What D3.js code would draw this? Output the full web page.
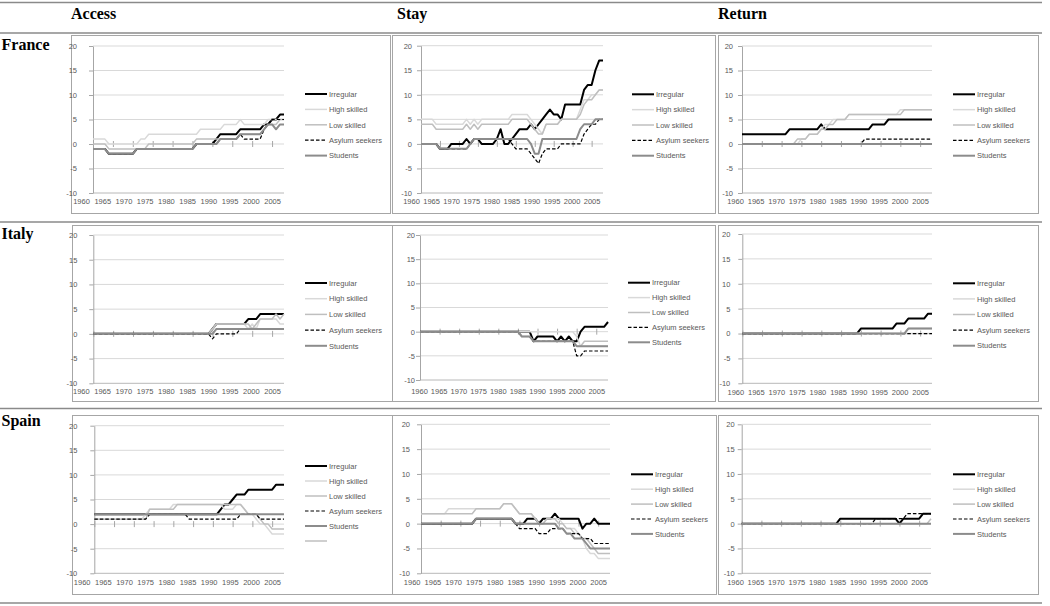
<!DOCTYPE html>
<html><head><meta charset="utf-8">
<script src="https://cdn.jsdelivr.net/npm/d3@7"></script>
<style>body{margin:0;background:#fff}svg{display:block}</style>
</head><body><svg id="c" width="1050" height="606"></svg>
<script>
const years = [1960,1961,1962,1963,1964,1965,1966,1967,1968,1969,1970,1971,1972,1973,1974,1975,1976,1977,1978,1979,1980,1981,1982,1983,1984,1985,1986,1987,1988,1989,1990,1991,1992,1993,1994,1995,1996,1997,1998,1999,2000,2001,2002,2003,2004,2005,2006,2007,2008];
const xTickYears = [1960,1965,1970,1975,1980,1985,1990,1995,2000,2005];
const xTickLabels = ["1960","1965","1970","1975","1980","1985","1990","1995","2000","2005"];
const yTicks = [-10,-5,0,5,10,15,20];
const yTickLabels = ["-10","-5","0","5","10","15","20"];
const columns = ["Access","Stay","Return"];
const countries = ["France","Italy","Spain"];
const seriesNames = ["Irregular","High skilled","Low skilled","Asylum seekers","Students"];

// ---------- France ----------
const franceAccessIrregular = [-1,-1,-1,-1,-2,-2,-2,-2,-2,-2, -2,-1,-1,-1,-1,-1,-1,-1,-1,-1, -1,-1,-1,-1,-1,-1,0,0,0,0, 0,1,2,2,2,2,2,3,3,3, 3,3,3,4,4,5,5,6,6];
const franceAccessHigh = [1,1,1,1,0,0,0,0,0,0, 0,0,1,1,2,2,2,2,2,2, 2,2,2,2,2,2,2,3,3,3, 3,3,3,4,4,4,4,5,4,4, 4,4,4,4,5,5,5,5,5];
const franceAccessLow = [0,0,0,0,-1,-1,-1,-1,-1,-1, -1,-1,-1,-1,0,0,0,0,0,0, 0,0,0,0,0,0,1,1,1,1, 1,1,1,1,1,1,1,2,2,2, 2,2,2,3,4,4,4,5,5];
const franceAccessAsylum = [-1,-1,-1,-1,-2,-2,-2,-2,-2,-2, -2,-1,-1,-1,-1,-1,-1,-1,-1,-1, -1,-1,-1,-1,-1,-1,0,0,0,0, 0,0,1,1,1,1,1,2,1,1, 1,1,1,3,4,5,5,5,5];
const franceAccessStudents = [-1,-1,-1,-1,-2,-2,-2,-2,-2,-2, -2,-1,-1,-1,-1,-1,-1,-1,-1,-1, -1,-1,-1,-1,-1,-1,0,0,0,0, 0,0,1,1,1,1,1,2,2,2, 2,2,2,3,4,4,3,4,4];

const franceStayIrregular = [0,0,0,0,0,-1,-1,-1,0,0, 0,0,1,0,1,1,0,0,0,0, 1,3,0,0,1,2,3,3,3,4, 3,4,5,6,7,6,6,5,8,8, 8,8,8,11,12,12,15,17,17];
const franceStayHigh = [5,5,5,5,4,4,4,4,4,4, 4,4,5,4,5,4,5,5,5,5, 5,5,5,5,6,6,6,6,6,5, 4,3,2,4,4,4,4,5,5,5, 5,5,7,9,9,10,10,11,11];
const franceStayLow = [4,4,4,4,3,3,3,3,3,3, 3,3,4,3,4,3,4,4,4,4, 4,4,4,4,5,5,5,5,5,4, 3,2,2,4,4,4,4,5,5,5, 5,5,6,8,9,9,10,11,11];
const franceStayAsylum = [0,0,0,0,0,-1,-1,-1,-1,-1, -1,-1,-1,0,1,1,1,1,1,1, 1,1,1,1,0,-1,-1,-1,-1,-2, -3,-4,-2,-1,-1,-1,-1,0,0,0, 0,0,0,2,3,4,4,5,5];
const franceStayStudents = [0,0,0,0,0,-1,-1,-1,-1,-1, -1,-1,-1,0,1,1,1,1,1,1, 1,1,1,1,1,1,1,1,1,0, -2,-2,1,1,1,1,1,1,1,1, 1,1,3,4,4,4,5,5,5];

const franceReturnIrregular = [2,2,2,2,2,2,2,2,2,2, 2,2,3,3,3,3,3,3,3,3, 4,3,3,3,3,3,3,3,3,3, 3,3,3,4,4,4,4,5,5,5, 5,5,5,5,5,5,5,5,5];
const franceReturnHigh = [0,0,0,0,0,0,0,0,0,0, 0,0,0,0,0,1,1,2,2,2, 3,4,4,5,5,5,5,6,6,6, 6,6,6,6,6,6,6,6,6,6, 7,7,7,7,7,7,7,7,7];
const franceReturnLow = [0,0,0,0,0,0,0,0,0,0, 0,0,0,0,1,1,1,2,2,2, 3,3,4,4,5,5,5,6,6,6, 6,6,6,6,6,6,6,6,6,6, 6,7,7,7,7,7,7,7,7];
const franceReturnAsylum = [0,0,0,0,0,0,0,0,0,0, 0,0,0,0,0,0,0,0,0,0, 0,0,0,0,0,0,0,0,0,0, 0,1,1,1,1,1,1,1,1,1, 1,1,1,1,1,1,1,1,1];
const franceReturnStudents = [0,0,0,0,0,0,0,0,0,0, 0,0,0,0,0,0,0,0,0,0, 0,0,0,0,0,0,0,0,0,0, 0,0,0,0,0,0,0,0,0,0, 0,0,0,0,0,0,0,0,0];

// ---------- Italy ----------
const italyAccessIrregular = [0,0,0,0,0,0,0,0,0,0, 0,0,0,0,0,0,0,0,0,0, 0,0,0,0,0,0,0,0,0,0, 1,2,2,2,2,2,2,2,2,3, 3,3,4,4,4,4,4,4,4];
const italyAccessHigh = [0,0,0,0,0,0,0,0,0,0, 0,0,0,0,0,0,0,0,0,0, 0,0,0,0,0,0,0,0,0,0, 1,2,2,2,2,2,2,2,2,1, 2,1,3,3,3,3,3,2,2];
const italyAccessLow = [0,0,0,0,0,0,0,0,0,0, 0,0,0,0,0,0,0,0,0,0, 0,0,0,0,0,0,0,0,0,0, 1,2,2,2,2,2,2,2,2,2, 1,2,3,3,3,3,4,3,4];
const italyAccessAsylum = [0,0,0,0,0,0,0,0,0,0, 0,0,0,0,0,0,0,0,0,0, 0,0,0,0,0,0,0,0,0,0, -1,0,0,0,0,0,0,1,1,1, 1,1,1,1,1,1,1,1,1];
const italyAccessStudents = [0,0,0,0,0,0,0,0,0,0, 0,0,0,0,0,0,0,0,0,0, 0,0,0,0,0,0,0,0,0,0, 0,1,1,1,1,1,1,1,1,1, 1,1,1,1,1,1,1,1,1];

const italyStayIrregular = [0,0,0,0,0,0,0,0,0,0, 0,0,0,0,0,0,0,0,0,0, 0,0,0,0,0,0,0,0,0,-2, -1,-1,-1,-1,-1,-2,-1,-2,-1,-2, -2,0,1,1,1,1,1,1,2];
const italyStayHigh = [0,0,0,0,0,0,0,0,0,0, 0,0,0,0,0,0,0,0,0,0, 0,0,0,0,0,0,0,0,0,0, 0,0,0,0,0,0,0,0,0,0, -1,-3,-3,-3,-3,-3,-3,-3,-3];
const italyStayLow = [0,0,0,0,0,0,0,0,0,0, 0,0,0,0,0,0,0,0,0,0, 0,0,0,0,0,0,-1,-1,-1,-2, -2,-2,-2,-2,-2,-2,-2,-2,-2,-2, -3,-3,-2,-2,-2,-2,-2,-2,-2];
const italyStayAsylum = [0,0,0,0,0,0,0,0,0,0, 0,0,0,0,0,0,0,0,0,0, 0,0,0,0,0,0,-1,-1,-1,-2, -2,-2,-2,-2,-2,-2,-2,-2,-2,-2, -5,-5,-4,-4,-4,-4,-4,-4,-4];
const italyStayStudents = [0,0,0,0,0,0,0,0,0,0, 0,0,0,0,0,0,0,0,0,0, 0,0,0,0,0,0,-1,-1,-1,-2, -2,-2,-2,-2,-2,-2,-2,-2,-2,-2, -3,-3,-3,-3,-3,-3,-3,-3,-3];

const italyReturnIrregular = [0,0,0,0,0,0,0,0,0,0, 0,0,0,0,0,0,0,0,0,0, 0,0,0,0,0,0,0,0,0,0, 1,1,1,1,1,1,1,1,1,2, 2,2,3,3,3,3,3,4,4];
const italyReturnHigh = [0,0,0,0,0,0,0,0,0,0, 0,0,0,0,0,0,0,0,0,0, 0,0,0,0,0,0,0,0,0,0, 0,0,0,0,0,0,0,0,0,0, 0,0,0,0,0,0,0,0,0];
const italyReturnLow = [0,0,0,0,0,0,0,0,0,0, 0,0,0,0,0,0,0,0,0,0, 0,0,0,0,0,0,0,0,0,0, 0,0,0,0,0,0,0,0,0,0, 0,0,1,1,1,1,1,1,1];
const italyReturnAsylum = [0,0,0,0,0,0,0,0,0,0, 0,0,0,0,0,0,0,0,0,0, 0,0,0,0,0,0,0,0,0,0, 0,0,0,0,0,0,0,0,0,0, 0,0,0,0,0,0,0,0,0];
const italyReturnStudents = [0,0,0,0,0,0,0,0,0,0, 0,0,0,0,0,0,0,0,0,0, 0,0,0,0,0,0,0,0,0,0, 0,0,0,0,0,0,0,0,0,0, 0,0,1,1,1,1,1,1,1];

// ---------- Spain ----------
const spainAccessIrregular = [2,2,2,2,2,2,2,2,2,2, 2,2,2,2,2,2,2,2,2,2, 2,2,2,2,2,2,2,2,2,2, 2,2,3,4,4,5,6,6,6,7, 7,7,7,7,7,7,8,8,8];
const spainAccessHigh = [1,1,1,1,1,1,1,1,1,1, 1,1,1,2,3,3,3,3,3,3, 4,4,4,4,4,4,4,4,4,4, 4,4,4,3,3,3,4,4,3,2, 2,1,0,0,-1,-2,-2,-2,-2];
const spainAccessLow = [1,1,1,1,1,1,1,1,1,1, 1,1,1,1,3,3,3,3,3,3, 3,4,4,4,4,4,4,4,4,4, 4,4,4,4,4,4,4,4,3,2, 2,2,1,0,0,-1,-1,-1,-1];
const spainAccessAsylum = [1,1,1,1,1,1,1,1,1,1, 1,1,1,1,2,2,2,2,2,2, 2,2,2,2,1,1,1,1,1,1, 1,1,1,1,1,1,1,2,2,2, 2,2,1,1,1,1,1,1,1];
const spainAccessStudents = [2,2,2,2,2,2,2,2,2,2, 2,2,2,2,2,2,2,2,2,2, 2,2,2,2,2,2,2,2,2,2, 2,2,2,2,2,2,2,2,2,2, 2,2,2,2,2,2,2,2,2];

const spainStayIrregular = [0,0,0,0,0,0,0,0,0,0, 0,0,0,0,1,1,1,1,1,1, 1,1,1,1,0,0,0,1,1,1, 0,1,1,1,2,1,1,1,1,1, 1,-1,0,0,1,0,0,0,0];
const spainStayHigh = [2,2,2,2,2,2,2,3,3,3, 3,3,3,3,3,3,3,3,3,3, 3,4,4,4,3,2,2,2,2,1, 0,0,1,1,1,1,0,-1,-1,-1, -2,-3,-5,-6,-6,-7,-7,-7,-7];
const spainStayLow = [2,2,2,2,2,2,2,2,2,2, 2,2,2,2,3,3,3,3,3,3, 3,4,4,4,3,2,2,2,2,1, 0,0,1,1,1,0,0,-1,-1,-2, -2,-3,-3,-4,-5,-6,-6,-6,-6];
const spainStayAsylum = [0,0,0,0,0,0,0,0,0,0, 0,0,0,0,1,1,1,1,1,1, 1,1,1,1,0,-1,-1,-1,-1,-1, -2,-2,-2,-1,-1,-1,-1,-2,-2,-2, -2,-3,-3,-3,-4,-4,-4,-4,-4];
const spainStayStudents = [0,0,0,0,0,0,0,0,0,0, 0,0,0,0,1,1,1,1,1,1, 1,1,1,1,0,0,0,0,0,0, 0,0,0,0,0,-1,-1,-2,-2,-3, -3,-3,-4,-5,-5,-5,-5,-5,-5];

const spainReturnIrregular = [0,0,0,0,0,0,0,0,0,0, 0,0,0,0,0,0,0,0,0,0, 0,0,0,0,0,1,1,1,1,1, 1,1,1,1,1,1,1,1,1,1, 0,1,1,1,1,1,2,2,2];
const spainReturnHigh = [0,0,0,0,0,0,0,0,0,0, 0,0,0,0,0,0,0,0,0,0, 0,0,0,0,0,0,0,0,0,0, 0,0,0,0,0,0,0,0,0,0, 0,0,0,0,0,0,0,0,0];
const spainReturnLow = [0,0,0,0,0,0,0,0,0,0, 0,0,0,0,0,0,0,0,0,0, 0,0,0,0,0,0,0,0,0,0, 0,0,0,0,0,0,0,0,0,0, 0,0,0,0,0,0,0,0,1];
const spainReturnAsylum = [0,0,0,0,0,0,0,0,0,0, 0,0,0,0,0,0,0,0,0,0, 0,0,0,0,0,0,0,0,0,0, 0,0,0,0,1,1,1,1,1,1, 1,1,2,2,2,2,2,2,2];
const spainReturnStudents = [0,0,0,0,0,0,0,0,0,0, 0,0,0,0,0,0,0,0,0,0, 0,0,0,0,0,0,0,0,0,0, 0,0,0,0,0,0,0,0,0,0, 0,0,0,0,0,0,0,0,0];

// ---------- styles & layout ----------
const seriesStyle = [
  {color:"#000000", width:2.0, dash:null},
  {color:"#d9d9d9", width:1.5, dash:null},
  {color:"#bfbfbf", width:1.5, dash:null},
  {color:"#000000", width:1.2, dash:"3.5,2"},
  {color:"#8c8c8c", width:2.0, dash:null}
];

const panels = [
  {data:[franceAccessIrregular,franceAccessHigh,franceAccessLow,franceAccessAsylum,franceAccessStudents],
   box:[71,35,390,213], left:93, right:284, top:46, bottom:193, gap:16, shift:12, xly:13, lx:305, ly:94, ldy:15.4},
  {data:[franceStayIrregular,franceStayHigh,franceStayLow,franceStayAsylum,franceStayStudents],
   box:[392,35,715,213], left:421, right:603, top:45.7, bottom:193, gap:9, shift:10, xly:13.5, lx:632, ly:94.3, ldy:15.35},
  {data:[franceReturnIrregular,franceReturnHigh,franceReturnLow,franceReturnAsylum,franceReturnStudents],
   box:[718,35,1038,213], left:742, right:932, top:46, bottom:193, gap:9, shift:7, xly:13.5, lx:953, ly:94.3, ldy:15.35},
  {data:[italyAccessIrregular,italyAccessHigh,italyAccessLow,italyAccessAsylum,italyAccessStudents],
   box:[72,225,393,401], left:93.3, right:284, top:235, bottom:383.3, gap:16, shift:12.5, xly:13, lx:305, ly:283, ldy:15.7},
  {data:[italyStayIrregular,italyStayHigh,italyStayLow,italyStayAsylum,italyStayStudents],
   box:[392,225,715,401], left:420, right:608, top:235, bottom:380, gap:5, shift:1, xly:16, lx:628, ly:282.7, ldy:14.9},
  {data:[italyReturnIrregular,italyReturnHigh,italyReturnLow,italyReturnAsylum,italyReturnStudents],
   box:[718,225,1038,401], left:742.3, right:932, top:234, bottom:383.3, gap:12, shift:7, xly:13.5, lx:953, ly:283.3, ldy:15.6},
  {data:[spainAccessIrregular,spainAccessHigh,spainAccessLow,spainAccessAsylum,spainAccessStudents],
   box:[72,415,393,594], left:94.3, right:284, top:425.7, bottom:573.3, gap:17, shift:12.6, xly:13.4, lx:305, ly:466, ldy:15.0, extra:true},
  {data:[spainStayIrregular,spainStayHigh,spainStayLow,spainStayAsylum,spainStayStudents],
   box:[392,415,716,594], left:421, right:610, top:424.3, bottom:573.3, gap:11, shift:9.3, xly:14, lx:631, ly:474.3, ldy:14.9},
  {data:[spainReturnIrregular,spainReturnHigh,spainReturnLow,spainReturnAsylum,spainReturnStudents],
   box:[718,415,1038,594], left:741.7, right:931, top:424.3, bottom:573.3, gap:7, shift:6.7, xly:13.5, lx:953, ly:474.3, ldy:14.9}
];

const svg = d3.select("#c");
const FONT = "'Liberation Sans', Arial, sans-serif";
const SERIF = "'Liberation Serif', 'Times New Roman', serif";
const SMALL = 7.5;
const TXT = "#595959";

// table rules
const rules = [2.5, 33, 222, 408.5, 603];
svg.selectAll("line.rule").data(rules).join("line").attr("class","rule")
  .attr("x1",0).attr("x2",1042).attr("y1",d=>d).attr("y2",d=>d)
  .attr("stroke","#8a8a8a").attr("stroke-width",1.6);

// column headers
const headX = [71, 397, 718];
svg.selectAll("text.head").data(columns).join("text").attr("class","head")
  .attr("x",(d,i)=>headX[i]).attr("y",18.5).text(d=>d)
  .attr("font-family",SERIF).attr("font-weight","bold").attr("font-size",16).attr("fill","#000");
// row labels
const rowY = [50, 239, 425.5];
svg.selectAll("text.row").data(countries).join("text").attr("class","row")
  .attr("x",1.5).attr("y",(d,i)=>rowY[i]).text(d=>d)
  .attr("font-family",SERIF).attr("font-weight","bold").attr("font-size",16).attr("fill","#000");

function drawPanel(p){
  const g = svg.append("g");
  g.append("rect").attr("x",p.box[0]+0.5).attr("y",p.box[1]+0.5)
    .attr("width",p.box[2]-p.box[0]).attr("height",p.box[3]-p.box[1])
    .attr("fill","#fff").attr("stroke","#a6a6a6").attr("stroke-width",1);
  const x = d3.scaleLinear().domain([years[0], years[years.length-1]]).range([p.left, p.right]);
  const y = d3.scaleLinear().domain([-10,20]).range([p.bottom, p.top]);

  // gridlines
  g.append("g").selectAll("line").data(yTicks).join("line")
    .attr("x1",p.left).attr("x2",p.right).attr("y1",d=>y(d)).attr("y2",d=>y(d))
    .attr("stroke",d=>d===-10?"#b8b8b8":"#d9d9d9").attr("stroke-width",1);

  // y axis
  const ya = g.append("g").attr("transform",`translate(${p.left},0)`)
    .call(d3.axisLeft(y).tickValues(yTicks).tickFormat(d=>yTickLabels[yTicks.indexOf(d)])
      .tickSize(4).tickSizeOuter(0).tickPadding(Math.max(1,p.gap-4)));
  ya.select(".domain").attr("stroke","#a6a6a6");
  ya.selectAll(".tick line").attr("stroke","#a6a6a6");
  ya.selectAll("text").attr("font-family",FONT).attr("font-size",SMALL).attr("fill",TXT);

  // category tick marks on the zero line
  const xt = g.append("g").attr("transform",`translate(0,${y(0)-3})`)
    .call(d3.axisBottom(x).tickValues(xTickYears).tickSize(6).tickFormat(""));
  xt.select(".domain").remove();
  xt.selectAll(".tick line").attr("stroke","#a6a6a6");

  // category labels
  const xl = d3.scaleLinear().domain([xTickYears[0], xTickYears[xTickYears.length-1]])
    .range([x(xTickYears[0]) - p.shift, x(xTickYears[xTickYears.length-1])]);
  const xa = g.append("g").attr("transform",`translate(0,${p.bottom})`)
    .call(d3.axisBottom(xl).tickValues(xTickYears).tickFormat((d,i)=>xTickLabels[i]).tickSize(0).tickPadding(p.xly-7.5));
  xa.select(".domain").remove();
  xa.selectAll("text").attr("font-family",FONT).attr("font-size",SMALL).attr("fill",TXT);

  // series
  const line = d3.line().x((d,i)=>x(years[i])).y(d=>y(d));
  p.data.forEach((s,k)=>{
    const st = seriesStyle[k];
    g.append("path").datum(s).attr("d",line).attr("fill","none")
      .attr("stroke",st.color).attr("stroke-width",st.width)
      .attr("stroke-dasharray",st.dash).attr("stroke-linejoin","round");
  });

  // legend
  const entries = seriesNames.map((n,k)=>({name:n, st:seriesStyle[k]}));
  if(p.extra) entries.push({name:"", st:{color:"#bfbfbf", width:1.5, dash:null}});
  const lg = g.append("g");
  entries.forEach((e,k)=>{
    const yy = p.ly + k*p.ldy;
    lg.append("line").attr("x1",p.lx).attr("x2",p.lx+22).attr("y1",yy).attr("y2",yy)
      .attr("stroke",e.st.color).attr("stroke-width",e.st.width).attr("stroke-dasharray",e.st.dash);
    if(e.name) lg.append("text").attr("x",p.lx+24).attr("y",yy+2.7).text(e.name)
      .attr("font-family",FONT).attr("font-size",SMALL).attr("fill",TXT);
  });
}
panels.forEach(drawPanel);
</script></body></html>
